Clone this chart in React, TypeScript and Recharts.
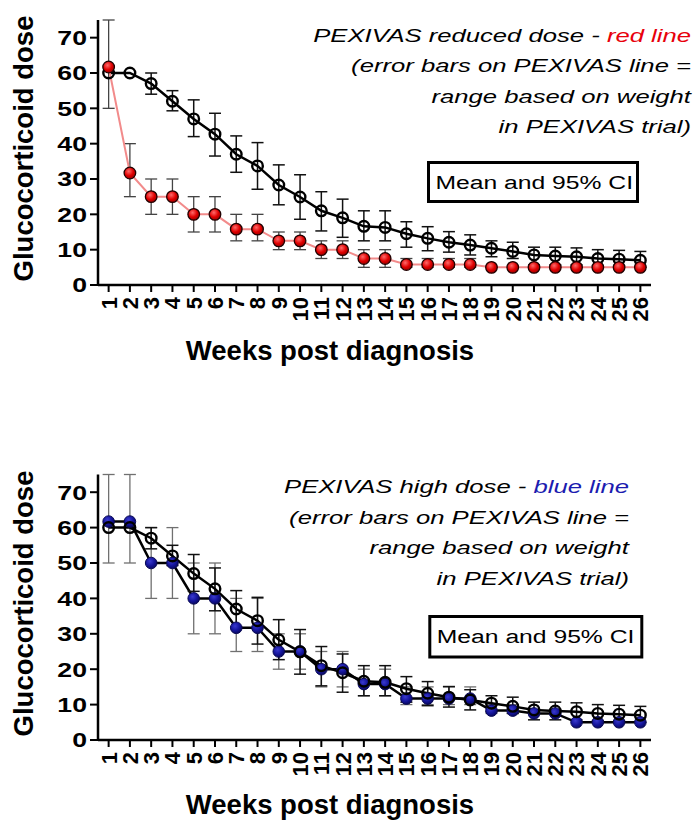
import { LineChart, Line, XAxis, YAxis, ErrorBar } from "recharts";

const weeks = [1, 2, 3, 4, 5, 6, 7, 8, 9, 10, 11, 12, 13, 14, 15, 16, 17, 18, 19, 20, 21, 22, 23, 24, 25, 26];
const doseTicks = [0, 10, 20, 30, 40, 50, 60, 70];

// observed regimen (black open circles): mean and 95% CI
const standardMean = [60, 60, 57, 52, 47, 42.7, 37, 33.7, 28.3, 24.9, 21, 19, 16.6, 16.3, 14.5, 13.2, 12.1, 11.3, 10.4, 9.5, 8.5, 8.2, 8, 7.5, 7.3, 7];
const standardLow = [60, 60, 54, 49.3, 42, 36.5, 31.9, 27.1, 22.7, 18.6, 15.3, 13.5, 12.5, 12.5, 10.7, 9.7, 9.3, 8.5, 8, 7.5, 5.7, 5.7, 5.7, 5.5, 5.5, 5];
const standardHigh = [60, 60, 60, 55, 52.4, 48.6, 42.2, 40.3, 34, 31.2, 26.4, 24.3, 21, 21, 17.9, 16.5, 15.1, 14.2, 12.5, 12.1, 10.7, 10.7, 10.5, 10, 9.8, 9.5];

// PEXIVAS reduced dose, range across weight bands
const reducedMean = [61.7, 31.7, 25, 25, 20, 20, 15.8, 15.8, 12.5, 12.5, 10, 10, 7.5, 7.5, 5.8, 5.8, 5.8, 5.8, 5, 5, 5, 5, 5, 5, 5, 5];
const reducedLow = [50, 25, 20, 20, 15, 15, 12.5, 12.5, 10, 10, 7.5, 7.5, 5, 5, 5, 5, 5, 5, 5, 5, 5, 5, 5, 5, 5, 5];
const reducedHigh = [75, 40, 30, 30, 25, 25, 20, 20, 15, 15, 12.5, 12.5, 10, 10, 7.5, 7.5, 7.5, 7.5, 5, 5, 5, 5, 5, 5, 5, 5];

// PEXIVAS high dose, range across weight bands
const highMean = [61.7, 61.7, 50, 50, 40, 40, 31.7, 31.7, 25, 25, 20, 20, 15.8, 15.8, 11.7, 11.7, 11.7, 11.7, 8.3, 8.3, 7.5, 7.5, 5, 5, 5, 5];
const highLow = [50, 50, 40, 40, 30, 30, 25, 25, 20, 20, 15, 15, 12.5, 12.5, 10, 10, 10, 10, 7.5, 7.5, 7.5, 7.5, 5, 5, 5, 5];
const highHigh = [75, 75, 60, 60, 50, 50, 40, 40, 30, 30, 25, 25, 20, 20, 15, 15, 15, 15, 10, 10, 7.5, 7.5, 5, 5, 5, 5];

const FONT = "'Liberation Sans', Arial, sans-serif";

const spread = (mean: number, lo: number, hi: number) =>
  lo === hi ? undefined : [mean - lo, hi - mean];

const rows = weeks.map((week, i) => ({
  week,
  standard: standardMean[i],
  standardErr: spread(standardMean[i], standardLow[i], standardHigh[i]),
  reduced: reducedMean[i],
  reducedErr: spread(reducedMean[i], reducedLow[i], reducedHigh[i]),
  high: highMean[i],
  highErr: spread(highMean[i], highLow[i], highHigh[i]),
}));

function WeekTick({ x, y, payload }: any) {
  return (
    <text
      transform={`translate(${x},${y}) rotate(-90)`}
      textAnchor="end"
      dy="0.36em"
      fontFamily={FONT}
      fontWeight="bold"
      fontSize={22}
      fill="#000"
    >
      {payload.value}
    </text>
  );
}

function DoseTick({ x, y, payload }: any) {
  return (
    <text
      transform={`translate(${x},${y}) scale(1.3,1)`}
      textAnchor="end"
      dy="0.36em"
      fontFamily={FONT}
      fontWeight="bold"
      fontSize={20.5}
      fill="#000"
    >
      {payload.value}
    </text>
  );
}

const axisLine = { stroke: "#000", strokeWidth: 2.5 };
const tickLine = { stroke: "#000", strokeWidth: 2 };

function StandardLine() {
  return (
    <Line
      dataKey="standard"
      stroke="#000"
      strokeWidth={2.5}
      dot={{ r: 5.3, fill: "none", stroke: "#000", strokeWidth: 2.4 }}
      activeDot={false}
      isAnimationActive={false}
    >
      <ErrorBar dataKey="standardErr" direction="y" width={6} stroke="#111" strokeWidth={1.5} isAnimationActive={false} />
    </Line>
  );
}

function Panel({ top, which }: { top: number; which: "reduced" | "high" }) {
  const plotTop = which === "reduced" ? 20 : 63.5;
  const xHeight = which === "reduced" ? 126 : 82;
  return (
    <div style={{ position: "absolute", left: 0, top }}>
      <LineChart
        width={697}
        height={411}
        data={rows}
        margin={{ top: plotTop, right: 46, bottom: 0, left: 0 }}
      >
        <defs>
          <radialGradient id={`ball-${which}`} cx="40%" cy="35%" r="65%">
            {which === "reduced" ? (
              <>
                <stop offset="0%" stopColor="#ff6a6a" />
                <stop offset="60%" stopColor="#e00000" />
                <stop offset="100%" stopColor="#a00000" />
              </>
            ) : (
              <>
                <stop offset="0%" stopColor="#3a3ad0" />
                <stop offset="60%" stopColor="#14149a" />
                <stop offset="100%" stopColor="#0a0a60" />
              </>
            )}
          </radialGradient>
        </defs>
        <XAxis
          dataKey="week"
          type="number"
          domain={[0.5, 26.5]}
          ticks={weeks}
          interval={0}
          height={xHeight}
          axisLine={axisLine}
          tickLine={tickLine}
          tickSize={7}
          tickMargin={5}
          tick={<WeekTick />}
        />
        <YAxis
          type="number"
          domain={[0, 75]}
          ticks={doseTicks}
          width={98}
          axisLine={axisLine}
          tickLine={tickLine}
          tickSize={8}
          tickMargin={3}
          tick={<DoseTick />}
        />
        {which === "reduced" ? (
          StandardLine()
        ) : (
          <Line
            dataKey="high"
            stroke="#000"
            strokeWidth={2.5}
            dot={{ r: 5.8, fill: "url(#ball-high)", stroke: "#0a0a55", strokeWidth: 1 }}
            activeDot={false}
            isAnimationActive={false}
          >
            <ErrorBar dataKey="highErr" direction="y" width={6} stroke="#707070" strokeWidth={1.3} isAnimationActive={false} />
          </Line>
        )}
        {which === "reduced" ? (
          <Line
            dataKey="reduced"
            stroke="#f28b8b"
            strokeWidth={2}
            dot={{ r: 5.8, fill: "url(#ball-reduced)", stroke: "#200000", strokeWidth: 1.3 }}
            activeDot={false}
            isAnimationActive={false}
          >
            <ErrorBar dataKey="reducedErr" direction="y" width={6} stroke="#444" strokeWidth={1.3} isAnimationActive={false} />
          </Line>
        ) : (
          StandardLine()
        )}
      </LineChart>
    </div>
  );
}

const noteLines = [
  "(error bars on PEXIVAS line =",
  "range based on weight",
  "in PEXIVAS trial)",
];

function Notes({ right, baseline, label, accent, color, box }: any) {
  return (
    <g fontFamily={FONT} fill="#000">
      <text transform={`translate(${right},${baseline}) scale(1.35,1)`} textAnchor="end" fontStyle="italic" fontSize={19}>
        {label}
        <tspan fill={color}>{accent}</tspan>
      </text>
      {noteLines.map((t, i) => (
        <text
          key={t}
          transform={`translate(${right},${baseline + (i + 1) * 30.5}) scale(1.35,1)`}
          textAnchor="end"
          fontStyle="italic"
          fontSize={19}
        >
          {t}
        </text>
      ))}
      <rect x={box.x} y={box.y} width={box.w} height={box.h} fill="#fff" stroke="#000" strokeWidth={3} />
      <text transform={`translate(${box.x + 7},${box.y + 26}) scale(1.3,1)`} fontSize={19}>
        Mean and 95% CI
      </text>
    </g>
  );
}

export default function App() {
  return (
    <div style={{ position: "absolute", left: 0, top: 0, width: 697, height: 822, background: "#fff" }}>
      <Panel top={0} which="reduced" />
      <Panel top={411} which="high" />
      <svg width={697} height={822} style={{ position: "absolute", left: 0, top: 0, pointerEvents: "none" }}>
        <Notes
          right={691}
          baseline={41.7}
          label="PEXIVAS reduced dose - "
          accent="red line"
          color="#e8000b"
          box={{ x: 428.5, y: 162.5, w: 209, h: 39 }}
        />
        <Notes
          right={629}
          baseline={493.3}
          label="PEXIVAS high dose - "
          accent="blue line"
          color="#1c1cb0"
          box={{ x: 429.8, y: 616.5, w: 212, h: 40.5 }}
        />
        <g fontFamily={FONT} fontWeight="bold" fill="#000">
          <text transform="translate(33,148.5) rotate(-90)" textAnchor="middle" fontSize={27.5}>
            Glucocorticoid dose
          </text>
          <text transform="translate(33,603.5) rotate(-90)" textAnchor="middle" fontSize={27.5}>
            Glucocorticoid dose
          </text>
          <text x={330} y={360} textAnchor="middle" fontSize={27.5}>
            Weeks post diagnosis
          </text>
          <text x={330} y={814} textAnchor="middle" fontSize={27.5}>
            Weeks post diagnosis
          </text>
        </g>
      </svg>
    </div>
  );
}
